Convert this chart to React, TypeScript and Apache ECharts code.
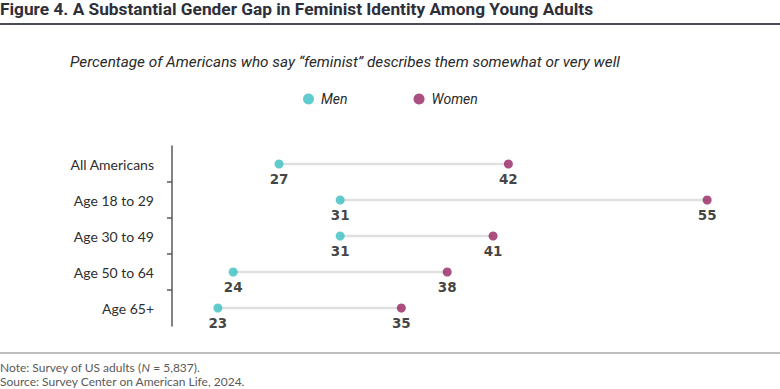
import React, { useEffect, useRef } from "react";
import * as echarts from "echarts";

const categories = ["All Americans", "Age 18 to 29", "Age 30 to 49", "Age 50 to 64", "Age 65+"];
const men = [27, 31, 31, 24, 23];
const women = [42, 55, 41, 38, 35];
const seriesNames = ["Men", "Women"];

const TEAL = "#3BBEC0";
const MAROON = "#962260";

export default function App() {
  const ref = useRef<HTMLDivElement>(null);
  useEffect(() => {
    document.body.style.margin = "0";
    const chart = echarts.init(ref.current!, null, { renderer: "svg" });
    const labelStyle = {
      show: true,
      position: "bottom",
      distance: 3,
      fontFamily: "DejaVu Sans",
      fontWeight: "bold",
      fontSize: 13.5,
      color: "#111111",
      formatter: (p: any) => String(p.value[0]),
    };
    chart.setOption({
      animation: false,
      backgroundColor: "#ffffff",
      grid: { left: 172, top: 146, height: 180, right: 27 },
      xAxis: { type: "value", min: 20, max: 58, show: false },
      yAxis: {
        type: "category",
        data: categories,
        inverse: true,
        axisLine: { show: true, lineStyle: { color: "#58585e", width: 1.5 } },
        axisTick: { show: false },
        axisLabel: { margin: 18, fontFamily: "Lato", fontSize: 14, color: "#2e2e2e" },
      },
      legend: {
        left: 298,
        top: 87,
        itemWidth: 11,
        itemHeight: 11,
        itemGap: 66,
        icon: "circle",
        data: seriesNames,
        textStyle: { fontFamily: "Roboto", fontStyle: "italic", fontSize: 14, color: "#2a2a2a", padding: [0, 0, 0, 2] },
      },
      graphic: [
        {
          type: "text",
          left: 0,
          top: 0,
          style: { text: "Figure 4. A Substantial Gender Gap in Feminist Identity Among Young Adults", fontFamily: "Roboto", fontWeight: "bold", fontSize: 17.3, fill: "#2f2f3a" },
        },
        { type: "line", shape: { x1: 0, y1: 24, x2: 780, y2: 24 }, style: { stroke: "#4b4b55", lineWidth: 2 } },
        {
          type: "text",
          left: 70,
          top: 54,
          style: { text: "Percentage of Americans who say \u201cfeminist\u201d describes them somewhat or very well", fontFamily: "Roboto", fontStyle: "italic", fontSize: 15.3, fill: "#2a2a2a" },
        },
        { type: "line", shape: { x1: 0, y1: 353, x2: 780, y2: 353 }, style: { stroke: "#a8a8a8", lineWidth: 1.5 } },
        {
          type: "text",
          left: 0,
          top: 361,
          style: {
            text: "Note: Survey of US adults ({i|N} = 5,837).",
            fontFamily: "Lato",
            fontSize: 12,
            fill: "#5a5a5a",
            rich: { i: { fontFamily: "Lato", fontStyle: "italic", fontSize: 12, fill: "#5a5a5a" } },
          },
        },
        {
          type: "text",
          left: 0,
          top: 375,
          style: { text: "Source: Survey Center on American Life, 2024.", fontFamily: "Lato", fontSize: 12, fill: "#5a5a5a" },
        },
      ],
      series: [
        {
          type: "custom",
          name: "connector",
          silent: true,
          data: categories.map((c, i) => [men[i], women[i], i]),
          encode: { x: [0, 1], y: 2 },
          renderItem: (params: any, api: any) => {
            const a = api.coord([api.value(0), api.value(2)]);
            const b = api.coord([api.value(1), api.value(2)]);
            return {
              type: "line",
              shape: { x1: a[0], y1: a[1], x2: b[0], y2: b[1] },
              style: { stroke: "#e0e0e0", lineWidth: 2.5 },
            };
          },
          z: 1,
        },
        {
          type: "custom",
          name: "ticks",
          silent: true,
          clip: false,
          data: categories.slice(1).map((c, i) => [20, i + 1]),
          encode: { x: 0, y: 1 },
          renderItem: (params: any, api: any) => {
            const c = api.coord([api.value(0), api.value(1)]);
            const h = api.size([0, 1])[1];
            const y = c[1] - h / 2;
            return {
              type: "line",
              shape: { x1: c[0] - 5, y1: y, x2: c[0], y2: y },
              style: { stroke: "#58585e", lineWidth: 1.5 },
            };
          },
          z: 2,
        },
        {
          type: "scatter",
          name: "Men",
          symbol: "circle",
          symbolSize: 9,
          itemStyle: { color: TEAL },
          data: men.map((v, i) => [v, categories[i]]),
          label: labelStyle,
          z: 3,
        },
        {
          type: "scatter",
          name: "Women",
          symbol: "circle",
          symbolSize: 9,
          itemStyle: { color: MAROON },
          data: women.map((v, i) => [v, categories[i]]),
          label: labelStyle,
          z: 3,
        },
      ],
    });
    return () => chart.dispose();
  }, []);
  return <div ref={ref} style={{ width: 780, height: 389 }} />;
}
